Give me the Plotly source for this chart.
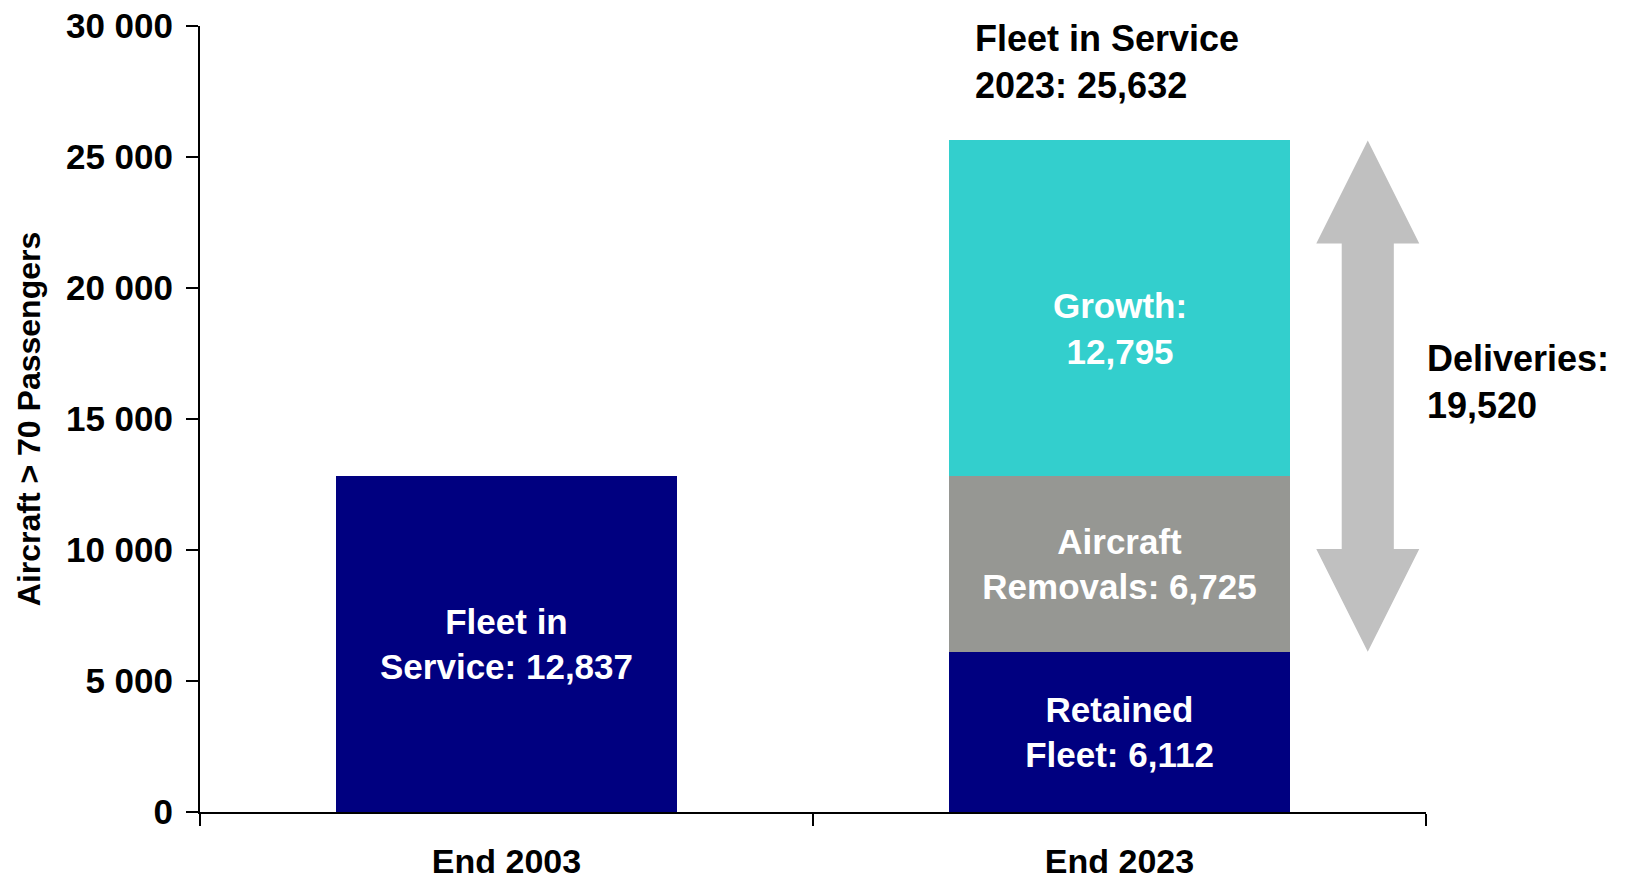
import plotly.graph_objects as go

# Fleet data (aircraft with more than 70 passengers)
categories = ["End 2003", "End 2023"]
fleet_2003 = 12837
retained_fleet = 6112
aircraft_removals = 6725
growth = 12795
y_ticks = [0, 5000, 10000, 15000, 20000, 25000, 30000]

fleet_2023 = retained_fleet + aircraft_removals + growth
deliveries = aircraft_removals + growth

NAVY = "#000080"
GREY = "#969793"
TEAL = "#33CFCD"
ARROW = "#C0C0C0"
FONT = "Liberation Sans, Arial, sans-serif"

xpos = list(range(len(categories)))
bar_w = 0.557

fig = go.Figure()

label_font = dict(family=FONT, size=35, color="white", weight="bold")


def seg(x, y, color, template):
    fig.add_trace(go.Bar(
        x=[x], y=[y], width=bar_w, marker=dict(color=color, line=dict(width=0)),
        texttemplate=template, textposition="inside" if template else "none",
        insidetextanchor="middle",
        textfont=label_font, textangle=0, hoverinfo="skip", showlegend=False,
        cliponaxis=False,
    ))


seg(xpos[0], fleet_2003, NAVY, "Fleet in<br>Service: %{y:,d}")
seg(xpos[1], retained_fleet, NAVY, "Retained<br>Fleet: %{y:,d}")
seg(xpos[1], aircraft_removals, GREY, "Aircraft<br>Removals: %{y:,d}")
seg(xpos[1], growth, TEAL, None)

# growth label sits a little below the middle of its segment
fig.add_annotation(
    x=xpos[1], y=retained_fleet + aircraft_removals + growth / 2,
    xref="x", yref="y", yshift=-20, showarrow=False,
    text=f"Growth:<br>{growth:,}", font=label_font, align="center",
)

# Double-headed arrow spanning the deliveries (retained fleet -> 2023 fleet)
ax = xpos[1] + 0.405
head_hw = 0.084
shaft_hw = 0.0425
head_h = 3930
lo, hi = retained_fleet, fleet_2023
arrow_x = [ax, ax + head_hw, ax + shaft_hw, ax + shaft_hw, ax + head_hw, ax,
           ax - head_hw, ax - shaft_hw, ax - shaft_hw, ax - head_hw, ax]
arrow_y = [hi, hi - head_h, hi - head_h, lo + head_h, lo + head_h, lo,
           lo + head_h, lo + head_h, hi - head_h, hi - head_h, hi]
fig.add_trace(go.Scatter(
    x=arrow_x, y=arrow_y, mode="lines", fill="toself", fillcolor=ARROW,
    line=dict(width=0, color=ARROW), hoverinfo="skip", showlegend=False,
))

text_font = dict(family=FONT, size=36, color="black", weight="bold")

fig.add_annotation(
    x=xpos[1] - bar_w / 2 + 0.04, y=fleet_2023, xref="x", yref="y",
    xanchor="left", yanchor="bottom", yshift=32, align="left", showarrow=False,
    text=f"Fleet in Service<br>2023: {fleet_2023:,}", font=text_font,
)
fig.add_annotation(
    x=1.0, y=(lo + hi) / 2, xref="paper", yref="y", xanchor="left",
    yanchor="middle", yshift=14, xshift=-1, align="left", showarrow=False,
    text=f"Deliveries:<br>{deliveries:,}", font=text_font,
)

fig.update_layout(
    width=1627, height=882,
    margin=dict(l=200, r=201, t=26, b=70, autoexpand=False),
    barmode="stack", bargap=0,
    plot_bgcolor="white", paper_bgcolor="white",
    font=dict(family=FONT, color="black"),
    xaxis=dict(
        range=[-0.5, 1.5], tickmode="array", tickvals=xpos, ticktext=categories,
        ticks="", showgrid=False, zeroline=False, showline=True,
        linecolor="black", linewidth=2,
        tickfont=dict(family=FONT, size=34, color="black", weight="bold"),
        ticklabelstandoff=18,
        minor=dict(tickmode="array", tickvals=[-0.5, 0.5, 1.5], ticks="outside",
                   ticklen=12, tickcolor="black", tickwidth=1.5, showgrid=False),
        fixedrange=True,
    ),
    yaxis=dict(
        range=[0, 30000], tickmode="array", tickvals=y_ticks,
        ticktext=[f"{v:,}".replace(",", " ") for v in y_ticks],
        ticks="outside", ticklen=12, tickwidth=1.5, tickcolor="black",
        showgrid=False, zeroline=False, showline=True, linecolor="black",
        linewidth=2,
        tickfont=dict(family=FONT, size=35, color="black", weight="bold"),
        ticklabelstandoff=6,
        title=dict(text="Aircraft > 70 Passengers", standoff=16,
                   font=dict(family=FONT, size=32, color="black", weight="bold")),
        fixedrange=True,
    ),
)

fig.write_html("out.html")
